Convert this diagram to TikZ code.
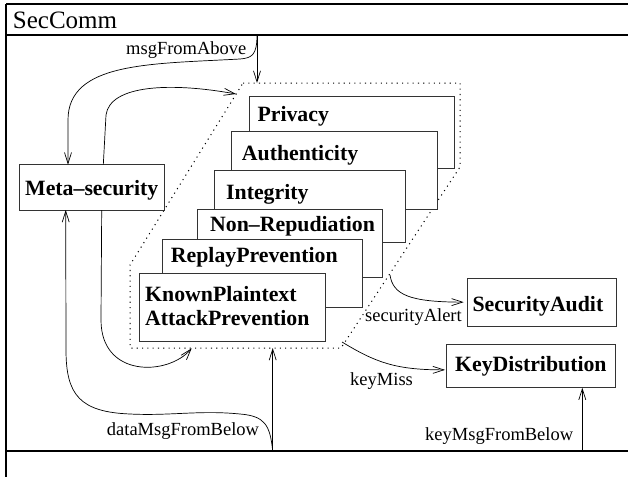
\documentclass[tikz,border=0pt]{standalone}
\usepackage{fontspec}
\setmainfont{Liberation Serif}
\usetikzlibrary{arrows.meta,calc}
\tikzset{
  box/.style={draw=black!80, fill=white, line width=0.9pt, anchor=north west, inner sep=0pt, outer sep=0pt},
  bt/.style={font=\bfseries\fontsize{21.8}{24}\selectfont, anchor=base west, inner sep=0pt},
  lt/.style={font=\fontsize{18.5}{20}\selectfont, anchor=base west, inner sep=0pt},
  arr/.style={line width=0.7pt, -{Straight Barb[length=11pt,width=7pt]}},
  ln/.style={line width=0.7pt},
  frame/.style={line width=1.2pt},
  region/.style={line width=1pt, dash pattern=on 1.1pt off 4.2pt}
}
\begin{document}
\begin{tikzpicture}[x=1pt,y=-1pt]
\useasboundingbox (0,0) rectangle (628,477);
% frame
\coordinate (fTL) at (6,4);
\coordinate (fTR) at (628,4);
\coordinate (fBL) at (6,477);
\coordinate (s1L) at (6,35);
\coordinate (s1R) at (628,35);
\coordinate (s2L) at (6,451);
\coordinate (s2R) at (628,451);
\draw[frame] (fTL) -- (fTR);
\draw[frame] (fTL) -- (fBL);
\draw[frame] (s1L) -- (s1R);
\draw[frame] (s2L) -- (s2R);
\node[anchor=base west, inner sep=0pt, font=\fontsize{25}{28}\selectfont] (title) at (12.7,28.3) {SecComm};

% dotted region
\coordinate (r1) at (243,83);
\coordinate (r2) at (460,83);
\coordinate (r3) at (460,167);
\coordinate (r4) at (341,348);
\coordinate (r5) at (130,348);
\coordinate (r6) at (130,265);
\draw[region] (r1) -- (r2) -- (r3) -- (r4) -- (r5) -- (r6) -- cycle;

% stacked boxes
\node[box, minimum width=205pt, minimum height=72pt] (priv) at (249.3,96.7) {};
\node[bt] (privT) at (257.3,121.7) {Privacy};
\node[box, minimum width=205.6pt, minimum height=78pt] (auth) at (231.7,131) {};
\node[bt] (authT) at (241.7,160.3) {Authenticity};
\node[box, minimum width=191.4pt, minimum height=72pt] (integ) at (214.3,170.3) {};
\node[bt] (integT) at (226,199.3) {Integrity};
\node[box, minimum width=185pt, minimum height=68.4pt] (nonrep) at (197.3,209.3) {};
\node[bt] (nonrepT) at (210,231.7) {Non–Repudiation};
\node[box, minimum width=200.4pt, minimum height=68.7pt] (replay) at (162.3,239) {};
\node[bt] (replayT) at (170.7,262.3) {ReplayPrevention};
\node[box, minimum width=185.7pt, minimum height=68.4pt] (known) at (139.3,273.3) {};
\node[bt] (knownT1) at (145,301.7) {KnownPlaintext};
\node[bt] (knownT2) at (145,325) {AttackPrevention};

% other boxes
\node[box, minimum width=145pt, minimum height=45.3pt] (meta) at (19,164.7) {};
\node[bt] (metaT) at (25,195) {Meta–security};
\node[box, minimum width=148.3pt, minimum height=47.7pt] (sa) at (467.7,278.3) {};
\node[bt] (saT) at (472.3,311.7) {SecurityAudit};
\node[box, minimum width=169.3pt, minimum height=43.7pt] (kd) at (446,344) {};
\node[bt] (kdT) at (455,371.7) {KeyDistribution};

% msgFromAbove
\coordinate (mfa) at (257,35);
\coordinate (mfaEnd) at (257,83);
\draw[arr] (mfa) -- (mfaEnd);
\draw[arr] (mfa) .. controls (257,55) and (252,58) .. (240,59)
  .. controls (150,64) and (68,62) .. (68,120) -- ($(meta.north west)+(49,0)$);
\node[lt] (mfaL) at (126,54) {msgFromAbove};

% meta -> region (top)
\coordinate (regA) at (236,94);
\draw[arr] ($(meta.north west)+(84.3,0)$) -- (106,115) .. controls (110,85) and (170,82) .. (regA);

% meta -> region (bottom)
\coordinate (regB) at (191.7,348.3);
\draw[arr] ($(meta.south west)+(82.7,0)$) -- (101,320) .. controls (101,378) and (168,376) .. (regB);

% dataMsgFromBelow
\coordinate (dmb) at (272.7,451);
\coordinate (dmbEnd) at (272.7,348);
\draw[arr] (dmb) -- (dmbEnd);
\draw[arr] (dmb) .. controls (270,425) and (265,416) .. (240,414)
  .. controls (200,410) and (170,416) .. (130,414)
  .. controls (80,412) and (66,395) .. (66,350) -- ($(meta.south west)+(46.7,0)$);
\node[lt] (dmbL) at (106.7,435) {dataMsgFromBelow};

% securityAlert
\coordinate (saStart) at (390,275);
\draw[arr] (saStart) .. controls (393,295) and (410,302) .. ($(sa.west)+(-4,0)$);
\node[lt] (saL) at (365,321.7) {securityAlert};

% keyMiss
\coordinate (kmStart) at (342,342);
\draw[arr] (kmStart) .. controls (375,362) and (395,370) .. ($(kd.west)+(-1,4)$);
\node[lt] (kmL) at (350,385.7) {keyMiss};

% keyMsgFromBelow
\coordinate (kmb) at (582.3,451);
\draw[arr] (kmb) -- (kmb |- kd.south);
\node[lt] (kmbL) at (425,440) {keyMsgFromBelow};
\end{tikzpicture}
\end{document}
